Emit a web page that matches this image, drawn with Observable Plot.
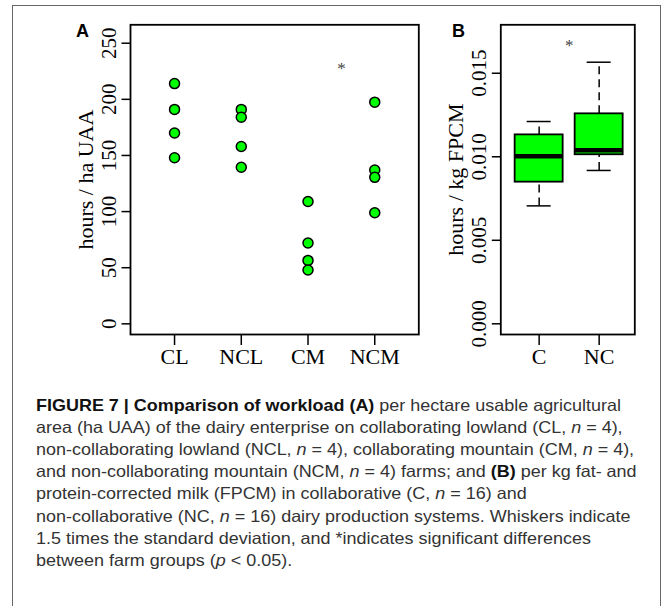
<!DOCTYPE html>
<html><head><meta charset="utf-8">
<script src="https://cdn.jsdelivr.net/npm/d3@7"></script>
<script src="https://cdn.jsdelivr.net/npm/@observablehq/plot@0.6"></script>
<style>
body{margin:0;background:#fff;}
#wrap{position:relative;width:667px;height:606px;overflow:hidden;background:#fff;}
#border{position:absolute;left:12px;top:5px;width:649px;height:700px;border:1px solid #666;box-sizing:border-box;}
#a,#b{position:absolute;top:0;}
#a{left:0;}
#b{left:430px;}
.lbl{position:absolute;font:bold 18px "Liberation Sans",Arial,sans-serif;color:#000;line-height:1;}
#cap{position:absolute;left:36px;top:393.5px;font-family:"Liberation Sans Narrow","Liberation Sans",Arial,sans-serif;font-size:16.5px;line-height:22.2px;color:#333;white-space:nowrap;transform-origin:0 0;}
#cap b{color:#111;}
</style></head>
<body>
<div id="wrap">
  <div id="border"></div>
  <div id="a"></div>
  <div id="b"></div>
  <div class="lbl" style="left:76px;top:22px;">A</div>
  <div class="lbl" style="left:452px;top:22px;">B</div>
  <div id="cap">
    <div id="l1"><b>FIGURE 7 | Comparison of workload (A)</b> per hectare usable agricultural</div>
    <div>area (ha UAA) of the dairy enterprise on collaborating lowland (CL, <i>n</i> = 4),</div>
    <div>non-collaborating lowland (NCL, <i>n</i> = 4), collaborating mountain (CM, <i>n</i> = 4),</div>
    <div>and non-collaborating mountain (NCM, <i>n</i> = 4) farms; and <b>(B)</b> per kg fat- and</div>
    <div>protein-corrected milk (FPCM) in collaborative (C, <i>n</i> = 16) and</div>
    <div>non-collaborative (NC, <i>n</i> = 16) dairy production systems. Whiskers indicate</div>
    <div>1.5 times the standard deviation, and *indicates significant differences</div>
    <div>between farm groups (<i>p</i> &lt; 0.05).</div>
  </div>
</div>
<script>
// ---- Panel A data ----
const groupsA = ["CL", "NCL", "CM", "NCM"];
const hoursCL = [214, 191, 170, 148];
const hoursNCL = [191, 184, 158, 139.5];
const hoursCM = [109, 72, 56.5, 48];
const hoursNCM = [197.5, 137, 130.5, 99];
const ticksA = [0, 50, 100, 150, 200, 250];
const sigA = [{pos: 3.5, value: 230}];

// ---- Panel B data ----
const groupsB = ["C", "NC"];
const whiskerLow = [0.00706, 0.00918];
const boxQ1 = [0.00848, 0.01012];
const boxMedian = [0.01003, 0.01039];
const boxQ3 = [0.01131, 0.01257];
const whiskerHigh = [0.01211, 0.01566];
const ticksB = [0, 0.005, 0.010, 0.015];
const sigB = [{pos: 1.5, value: 0.01686}];

const serif = '"Liberation Serif","Times New Roman",serif';
const green = "#00ff00";

const seriesA = [hoursCL, hoursNCL, hoursCM, hoursNCM];
const ptsA = groupsA.flatMap((g, i) => seriesA[i].map(v => ({pos: i + 1, group: g, v})));

const plotA = Plot.plot({
  width: 430, height: 380,
  marginLeft: 130, marginRight: 11.7, marginTop: 24.3, marginBottom: 46,
  x: {type: "linear", domain: [0.34, 4.66]},
  y: {domain: [-9.5, 266.4]},
  style: {fontFamily: serif, background: "transparent", overflow: "visible", color: "black"},
  marks: [
    Plot.axisY(ticksA, {tickSize: 8.5, tickFormat: () => "", strokeWidth: 1.5, label: null}),
    Plot.text(ticksA, {y: d => d, text: d => String(d), frameAnchor: "left", dx: -21.7, rotate: -90,
      textAnchor: "middle", lineAnchor: "middle", fontSize: 21, fill: "black"}),
    Plot.text(["hours / ha UAA"], {text: d => d, frameAnchor: "left", dx: -45, rotate: -90,
      textAnchor: "middle", lineAnchor: "middle", fontSize: 22, fill: "black"}),
    Plot.axisX([1, 2, 3, 4], {tickSize: 11, tickPadding: 3, tickFormat: i => groupsA[i - 1],
      fontSize: 22, label: null, strokeWidth: 1.5}),
    Plot.frame({stroke: "black", strokeWidth: 1.8}),
    Plot.dot(ptsA, {x: "pos", y: "v", r: 5, fill: green, stroke: "black", strokeWidth: 1.5}),
    Plot.text(sigA, {x: "pos", y: "value", text: () => "*", fontSize: 17, fill: "#444", dy: 3})
  ]
});
document.getElementById("a").appendChild(plotA);

const boxes = groupsB.map((g, i) => ({
  pos: i + 1, group: g, low: whiskerLow[i], q1: boxQ1[i], med: boxMedian[i], q3: boxQ3[i], high: whiskerHigh[i]
}));

const plotB = Plot.plot({
  width: 237, height: 380,
  marginLeft: 70.3, marginRight: 32.7, marginTop: 24.3, marginBottom: 46,
  x: {type: "linear", domain: [0.361, 2.594]},
  y: {domain: [-0.00064, 0.01790]},
  style: {fontFamily: serif, background: "transparent", overflow: "visible", color: "black"},
  marks: [
    Plot.axisY(ticksB, {tickSize: 8.5, tickFormat: () => "", strokeWidth: 1.5, label: null}),
    Plot.text(ticksB, {y: d => d, text: d => d.toFixed(3), frameAnchor: "left", dx: -21.7, rotate: -90,
      textAnchor: "middle", lineAnchor: "middle", fontSize: 21, fill: "black"}),
    Plot.text(["hours / kg FPCM"], {text: d => d, frameAnchor: "left", dx: -45, rotate: -90,
      textAnchor: "middle", lineAnchor: "middle", fontSize: 22, fill: "black"}),
    Plot.axisX([1, 2], {tickSize: 11, tickPadding: 3, tickFormat: i => groupsB[i - 1],
      fontSize: 22, label: null, strokeWidth: 1.5}),
    Plot.frame({stroke: "black", strokeWidth: 1.8}),
    Plot.ruleX(boxes, {x: "pos", y1: "q3", y2: "high", strokeDasharray: "8,5", strokeWidth: 1.5}),
    Plot.ruleX(boxes, {x: "pos", y1: "low", y2: "q1", strokeDasharray: "8,5", strokeWidth: 1.5}),
    Plot.ruleY(boxes, {y: "high", x1: d => d.pos - 0.2, x2: d => d.pos + 0.2, strokeWidth: 1.5}),
    Plot.ruleY(boxes, {y: "low", x1: d => d.pos - 0.2, x2: d => d.pos + 0.2, strokeWidth: 1.5}),
    Plot.rect(boxes, {x1: d => d.pos - 0.4, x2: d => d.pos + 0.4, y1: "q1", y2: "q3",
      fill: green, stroke: "black", strokeWidth: 1.8}),
    Plot.ruleY(boxes, {y: "med", x1: d => d.pos - 0.4, x2: d => d.pos + 0.4, strokeWidth: 4.5}),
    Plot.text(sigB, {x: "pos", y: "value", text: () => "*", fontSize: 17, fill: "#444", dy: 3})
  ]
});
document.getElementById("b").appendChild(plotB);

// fit caption width (first line spans ~585px in the reference)
const l1 = document.getElementById("l1");
const r = document.createRange(); r.selectNodeContents(l1);
const w = r.getBoundingClientRect().width;
document.getElementById("cap").style.transform = `scaleX(${585 / w})`;
</script>
</body></html>
